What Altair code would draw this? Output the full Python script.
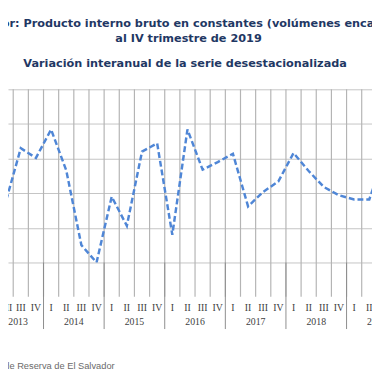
import altair as alt
import pandas as pd

# Data: quarters 2013Q1..2019Q4 (index 0..27)
years = ["2013", "2014", "2015", "2016", "2017", "2018", "2019"]
quarters = ["I", "II", "III", "IV"]
values = [1.60, 1.87, 2.65, 2.51,
          2.92, 2.33, 1.25, 1.00,
          1.95, 1.53, 2.60, 2.72,
          1.40, 2.92, 2.34, 2.45,
          2.57, 1.81, 2.02, 2.17,
          2.58, 2.32, 2.09, 1.97,
          1.91, 1.91, 2.54, 2.61]

title_line1 = "El Salvador: Producto interno bruto en constantes (volúmenes encadenados)"
title_line2 = "al IV trimestre de 2019"
subtitle = "Variación interanual de la serie desestacionalizada"
source = "Fuente: Banco Central de Reserva de El Salvador"

idx = list(range(len(values)))
df = pd.DataFrame({"i": idx, "v": values,
                   "q": [quarters[k % 4] for k in idx]})
lab_main = df[(df["i"] >= 2) & (df["i"] <= 25)]
lab_edge = df[df["i"] == 1]
ydf = pd.DataFrame({"year": years, "c": [4 * k + 1.5 for k in range(len(years))]})
ydf_main = ydf.iloc[1:]
ydf_edge = ydf.iloc[:1]
sep = pd.DataFrame({"b": [4 * k - 0.5 for k in range(len(years) + 1)]})
sep = sep[(sep["b"] > 1.2) & (sep["b"] < 25.1)]
bounds = pd.DataFrame({"b": [k + 0.5 for k in range(1, 25)]})

W, H = 372, 177
XDOM = [1.156, 25.179]
xs = alt.Scale(domain=XDOM, nice=False, zero=False)
ys = alt.Scale(domain=[1.0, 3.5], nice=False, zero=False)

x_axis = alt.Axis(values=[k + 0.5 for k in range(1, 25)], labels=False,
                  title=None, grid=False, ticks=False,
                  domain=True, domainColor="#8c8c8c", domainWidth=1)
grid_y = alt.Axis(values=[1.0, 1.5, 2.0, 2.5, 3.0, 3.5], labels=False,
                  title=None, grid=True, gridColor="#c4c4c4", gridWidth=1,
                  ticks=False, domain=False)

vgrid = alt.Chart(bounds).mark_rule(color="#b4b4b4", strokeWidth=1.2).encode(
    x=alt.X("b:Q", scale=xs, axis=None),
    y=alt.value(0), y2=alt.value(H + 35),
)

line = alt.Chart(df).mark_line(
    color="#4f86d6", strokeWidth=2.5, strokeDash=[6, 3], clip=True
).encode(
    x=alt.X("i:Q", scale=xs, axis=x_axis),
    y=alt.Y("v:Q", scale=ys, axis=grid_y),
)

seps = alt.Chart(sep).mark_rule(color="#8c8c8c", strokeWidth=1).encode(
    x=alt.X("b:Q", scale=xs, axis=None),
    y=alt.value(H), y2=alt.value(H + 68),
)

lab_style = dict(font="Liberation Serif", fontSize=10, color="#404040",
                 baseline="middle")

qlab = alt.Chart(lab_main).mark_text(**lab_style).encode(
    x=alt.X("i:Q", scale=xs, axis=None), y=alt.value(H + 46.5), text="q:N"
)
qlab_edge = alt.Chart(lab_edge).mark_text(dx=3.5, **lab_style).encode(
    x=alt.X("i:Q", scale=xs, axis=None), y=alt.value(H + 46.5), text="q:N"
)

ylab = alt.Chart(ydf_main).mark_text(**lab_style).encode(
    x=alt.X("c:Q", scale=xs, axis=None), y=alt.value(H + 61), text="year:N"
)
ylab_edge = alt.Chart(ydf_edge).mark_text(dx=5, **lab_style).encode(
    x=alt.X("c:Q", scale=xs, axis=None), y=alt.value(H + 61), text="year:N"
)

title_style = dict(font="DejaVu Sans", fontWeight="bold", fontSize=11.5,
                   color="#1f3864", baseline="middle", align="center")
t1 = alt.Chart(pd.DataFrame({"t": [title_line1]})).mark_text(**title_style).encode(
    x=alt.value(184.5), y=alt.value(-66.5), text="t:N")
t2 = alt.Chart(pd.DataFrame({"t": [title_line2]})).mark_text(**title_style).encode(
    x=alt.value(184.5), y=alt.value(-51.5), text="t:N")
t3 = alt.Chart(pd.DataFrame({"t": [subtitle]})).mark_text(**title_style).encode(
    x=alt.value(181), y=alt.value(-25.5), text="t:N")

src = alt.Chart(pd.DataFrame({"t": [source]})).mark_text(
    font="Liberation Sans", fontSize=9.5, color="#6a6a6a",
    baseline="middle", align="right"
).encode(
    x=alt.value(109), y=alt.value(H + 106), text="t:N"
)

chart = alt.layer(vgrid, line, seps, qlab, qlab_edge, ylab, ylab_edge,
                  t1, t2, t3, src).properties(
    width=W, height=H,
    padding={"left": 0, "top": 79, "right": 0, "bottom": 116},
    autosize=alt.AutoSizeParams(type="none"),
).configure_view(stroke=None)

chart.save("out.html", embed_options={"renderer": "svg", "actions": False})
